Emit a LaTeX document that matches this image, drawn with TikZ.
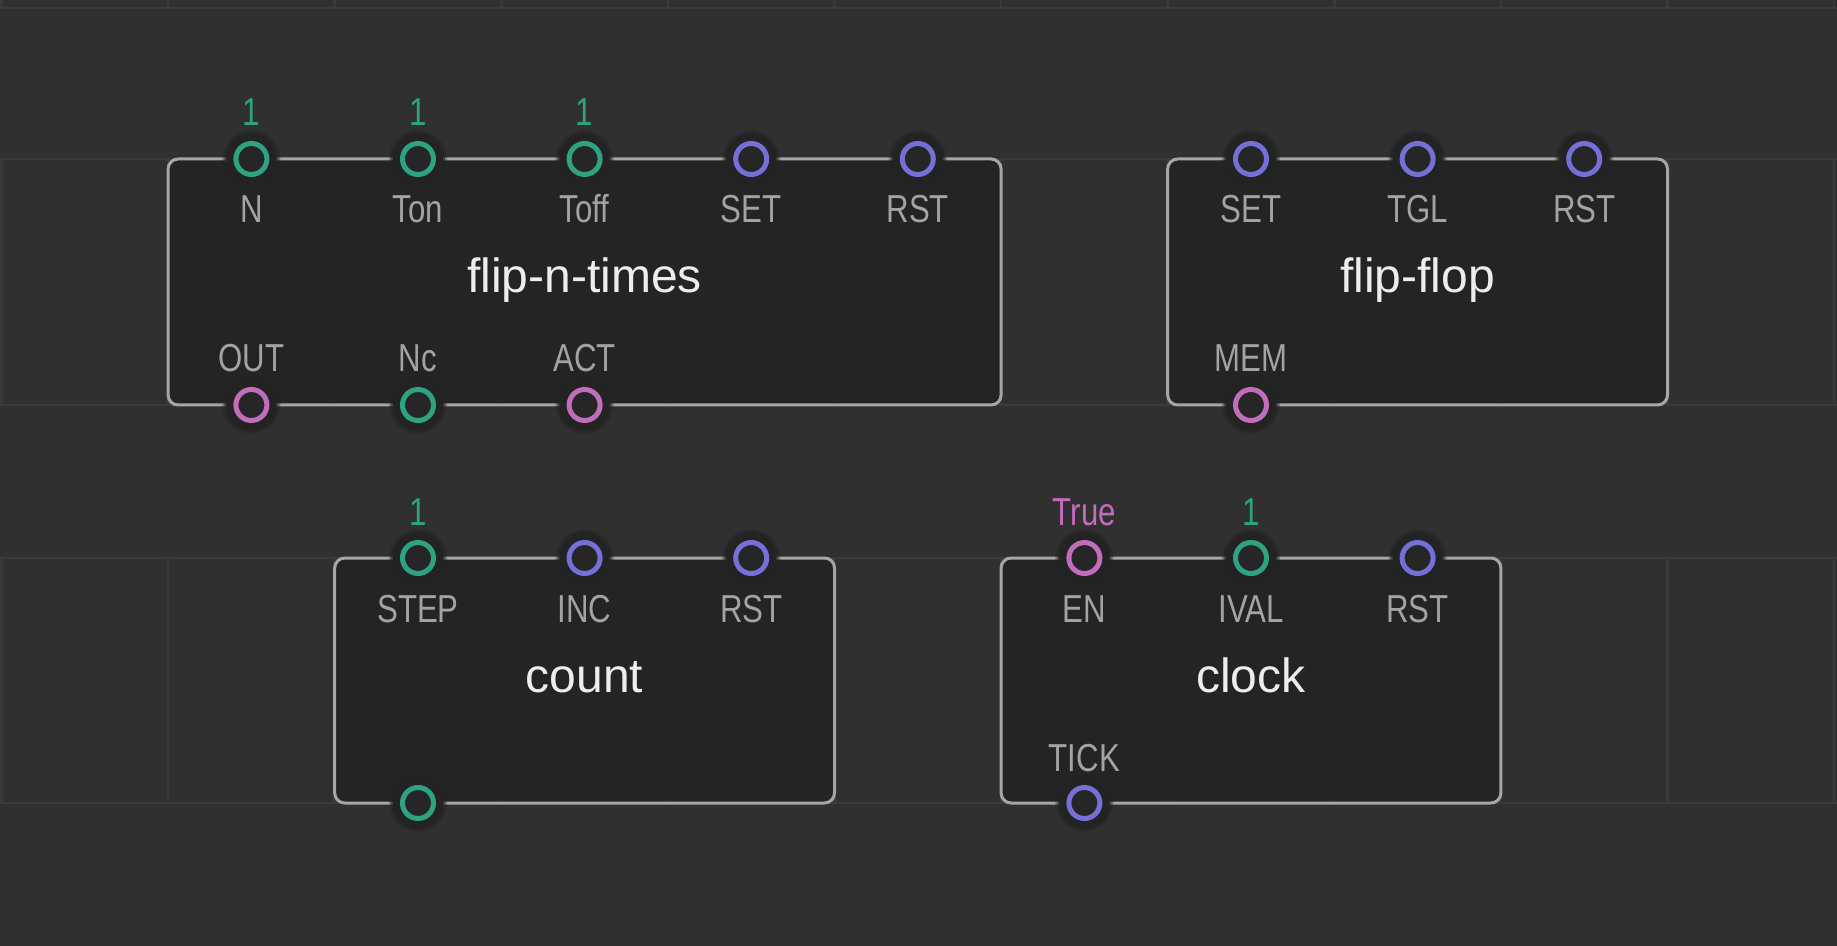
\documentclass[tikz,border=0pt]{standalone}
\usepackage{fontspec}
\setmainfont{Liberation Sans}
\newfontfamily\pinfont[FakeStretch=0.80]{Liberation Sans}

\definecolor{canvas}{HTML}{303030}
\definecolor{gridc}{HTML}{3A3A3A}
\definecolor{boxfill}{HTML}{222222}
\definecolor{boxedge}{HTML}{A6A6A6}
\definecolor{halo}{HTML}{232323}
\definecolor{portin}{HTML}{262626}
\definecolor{numc}{HTML}{2EA382}
\definecolor{pulsec}{HTML}{7570D8}
\definecolor{boolc}{HTML}{C26CBC}
\definecolor{pingray}{HTML}{A3A3A3}
\definecolor{titlec}{HTML}{EDEDED}

\tikzset{
  gridline/.style={draw=gridc, line width=1.3pt},
  nodebox/.style={draw=boxedge, line width=1.5pt, fill=boxfill, fill opacity=0.85,
    draw opacity=1, rounded corners=5pt, inner sep=0pt},
  portring/.style={circle, line width=2.5pt, minimum size=15.5pt, inner sep=0pt, fill=portin},
  pinlabel/.style={text=pingray, font=\pinfont\fontsize{19.5}{20}\selectfont, anchor=base, inner sep=0pt},
  pinvalue/.style={font=\pinfont\fontsize{19.5}{20}\selectfont, anchor=base, inner sep=0pt},
  nodetitle/.style={text=titlec, font=\fontsize{24}{26}\selectfont, anchor=base, inner sep=0pt},
}

% a port: name, x, y, colour
\newcommand{\portat}[4]{%
  \fill[halo, opacity=0.35] (#2,#3) circle (14.5pt);
  \fill[halo, opacity=0.6] (#2,#3) circle (13.5pt);
  \fill[halo] (#2,#3) circle (12.5pt);
  \node[portring, draw=#4] (#1) at (#2,#3) {};
}

\begin{document}
\begin{tikzpicture}[x=0.5pt, y=-0.5pt]
\fill[canvas] (0,0) rectangle (1837,946);
\useasboundingbox (0,0) rectangle (1837,946);

% background slot grid
\foreach \gy in {8,159,405,558,803}
  \draw[gridline] (0,\gy) -- (1837,\gy);
\foreach \i in {0,...,11} {
  \pgfmathsetmacro\gx{1.5+166.6*\i}
  \draw[gridline] (\gx,0) -- (\gx,8);
  \draw[gridline] (\gx,159) -- (\gx,405);
  \draw[gridline] (\gx,558) -- (\gx,803);
}

% ---------- flip-n-times ----------
\node[nodebox, minimum width=416.5pt, minimum height=123pt] (fnt) at (584.6,282) {};
\node[nodetitle] (fnt-title) at (584.6,293) {flip-n-times};
\portat{fnt-N}{251.4}{159}{numc}
\portat{fnt-Ton}{418}{159}{numc}
\portat{fnt-Toff}{584.6}{159}{numc}
\portat{fnt-SET}{751.2}{159}{pulsec}
\portat{fnt-RST}{917.8}{159}{pulsec}
\portat{fnt-OUT}{251.4}{405}{boolc}
\portat{fnt-Nc}{418}{405}{numc}
\portat{fnt-ACT}{584.6}{405}{boolc}
\node[pinvalue, text=numc] (fnt-vN) at (251.4,126) {1};
\node[pinvalue, text=numc] (fnt-vTon) at (418,126) {1};
\node[pinvalue, text=numc] (fnt-vToff) at (584.6,126) {1};
\node[pinlabel] (fnt-lN) at (251.4,223) {N};
\node[pinlabel] (fnt-lTon) at (418,223) {Ton};
\node[pinlabel] (fnt-lToff) at (584.6,223) {Toff};
\node[pinlabel] (fnt-lSET) at (751.2,223) {SET};
\node[pinlabel] (fnt-lRST) at (917.8,223) {RST};
\node[pinlabel] (fnt-lOUT) at (251.4,372) {OUT};
\node[pinlabel] (fnt-lNc) at (418,372) {Nc};
\node[pinlabel] (fnt-lACT) at (584.6,372) {ACT};

% ---------- flip-flop ----------
\node[nodebox, minimum width=249.9pt, minimum height=123pt] (ff) at (1417.6,282) {};
\node[nodetitle] (ff-title) at (1417.6,293) {flip-flop};
\portat{ff-SET}{1251}{159}{pulsec}
\portat{ff-TGL}{1417.6}{159}{pulsec}
\portat{ff-RST}{1584.2}{159}{pulsec}
\portat{ff-MEM}{1251}{405}{boolc}
\node[pinlabel] (ff-lSET) at (1251,223) {SET};
\node[pinlabel] (ff-lTGL) at (1417.6,223) {TGL};
\node[pinlabel] (ff-lRST) at (1584.2,223) {RST};
\node[pinlabel] (ff-lMEM) at (1251,372) {MEM};

% ---------- count ----------
\node[nodebox, minimum width=249.9pt, minimum height=122.5pt] (cnt) at (584.6,680.5) {};
\node[nodetitle] (cnt-title) at (584.6,692) {count};
\portat{cnt-STEP}{418}{558}{numc}
\portat{cnt-INC}{584.6}{558}{pulsec}
\portat{cnt-RST}{751.2}{558}{pulsec}
\portat{cnt-OUT}{418}{803}{numc}
\node[pinvalue, text=numc] (cnt-vSTEP) at (418,525) {1};
\node[pinlabel] (cnt-lSTEP) at (418,622) {STEP};
\node[pinlabel] (cnt-lINC) at (584.6,622) {INC};
\node[pinlabel] (cnt-lRST) at (751.2,622) {RST};

% ---------- clock ----------
\node[nodebox, minimum width=249.9pt, minimum height=122.5pt] (clk) at (1251,680.5) {};
\node[nodetitle] (clk-title) at (1251,692) {clock};
\portat{clk-EN}{1084.4}{558}{boolc}
\portat{clk-IVAL}{1251}{558}{numc}
\portat{clk-RST}{1417.6}{558}{pulsec}
\portat{clk-TICK}{1084.4}{803}{pulsec}
\node[pinvalue, text=boolc] (clk-vEN) at (1084.4,525) {True};
\node[pinvalue, text=numc] (clk-vIVAL) at (1251,525) {1};
\node[pinlabel] (clk-lEN) at (1084.4,622) {EN};
\node[pinlabel] (clk-lIVAL) at (1251,622) {IVAL};
\node[pinlabel] (clk-lRST) at (1417.6,622) {RST};
\node[pinlabel] (clk-lTICK) at (1084.4,771) {TICK};
\end{tikzpicture}
\end{document}
